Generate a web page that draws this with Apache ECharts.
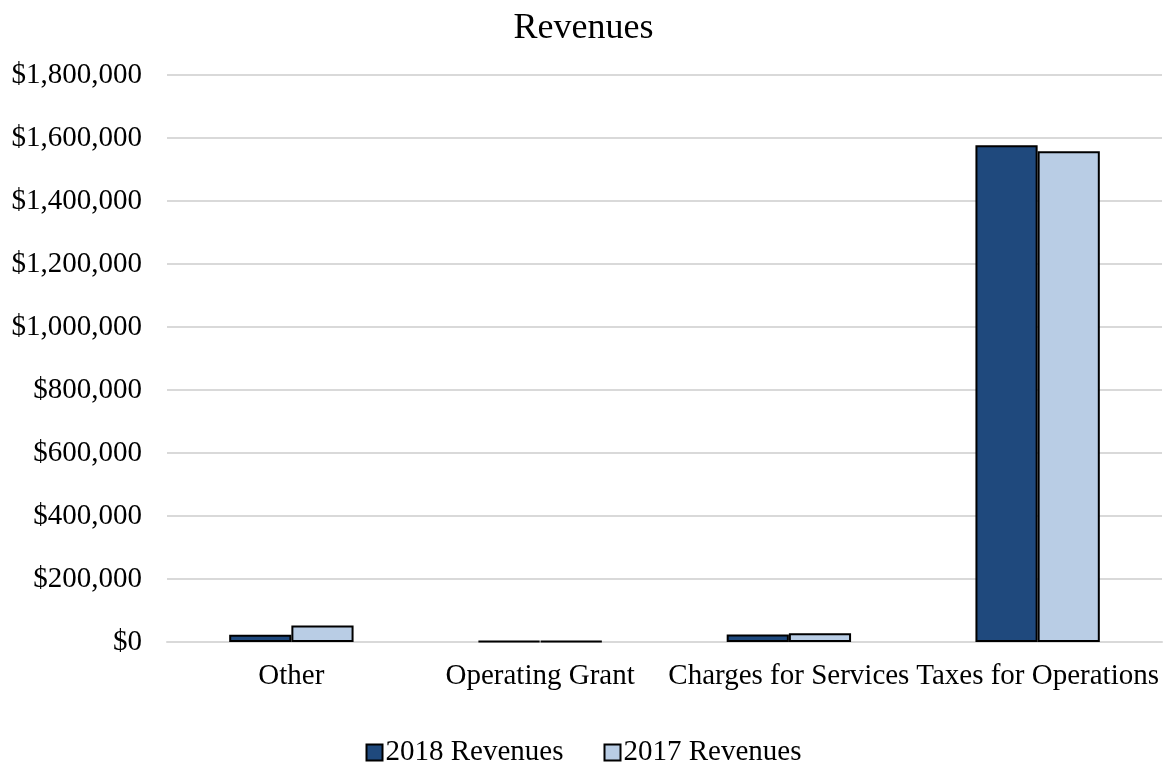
<!DOCTYPE html>
<html>
<head>
<meta charset="utf-8">
<script src="https://cdn.jsdelivr.net/npm/echarts@6/dist/echarts.min.js"></script>
<style>
  html, body { margin: 0; padding: 0; background: #fff; }
  #chart { width: 1167px; height: 766px; }
</style>
</head>
<body>
<div id="chart"></div>
<script>
// categories and values
const categories = ['Other', 'Operating Grant', 'Charges for Services', 'Taxes for Operations']
const revenues2018 = [23000, 3000, 24000, 1577000]
const revenues2017 = [52000, 3000, 28000, 1558000]
const yTicks = { min: 0, max: 1800000, interval: 200000 }

const font = 'Liberation Serif, Times New Roman, serif'
const fmt = v => '$' + v.toString().replace(/\B(?=(\d{3})+(?!\d))/g, ',')

const chart = echarts.init(document.getElementById('chart'))
chart.setOption({
  animation: false,
  textStyle: { fontFamily: font },
  title: {
    text: 'Revenues',
    left: 'center',
    top: 6,
    textStyle: { fontFamily: font, fontSize: 36, fontWeight: 'normal', color: '#000' }
  },
  legend: {
    bottom: -6,
    left: 'center',
    itemWidth: 16,
    itemHeight: 16,
    itemGap: 40,
    icon: 'rect',
    textStyle: { fontFamily: font, fontSize: 29, color: '#000', padding: [0, 0, 0, -2] },
    data: ['2018 Revenues', '2017 Revenues']
  },
  grid: { left: 167, right: 5, top: 75, bottom: 124 },
  xAxis: {
    type: 'category',
    data: categories,
    axisLine: { show: true, lineStyle: { color: '#d9d9d9', width: 2 } },
    axisTick: { show: false },
    axisLabel: { fontFamily: font, fontSize: 29, color: '#000', margin: 20, interval: 0 }
  },
  yAxis: {
    type: 'value',
    min: yTicks.min,
    max: yTicks.max,
    interval: yTicks.interval,
    axisLine: { show: false },
    axisTick: { show: false },
    splitLine: { lineStyle: { color: '#d9d9d9', width: 2 } },
    axisLabel: { fontFamily: font, fontSize: 29, color: '#000', margin: 25, formatter: fmt }
  },
  series: [
    {
      name: '2018 Revenues',
      type: 'bar',
      data: revenues2018,
      barGap: '0%',
      barCategoryGap: '50%',
      itemStyle: { color: '#1f497d', borderColor: '#000', borderWidth: 2 }
    },
    {
      name: '2017 Revenues',
      type: 'bar',
      data: revenues2017,
      itemStyle: { color: '#b9cde5', borderColor: '#000', borderWidth: 2 }
    }
  ]
})
</script>
</body>
</html>
